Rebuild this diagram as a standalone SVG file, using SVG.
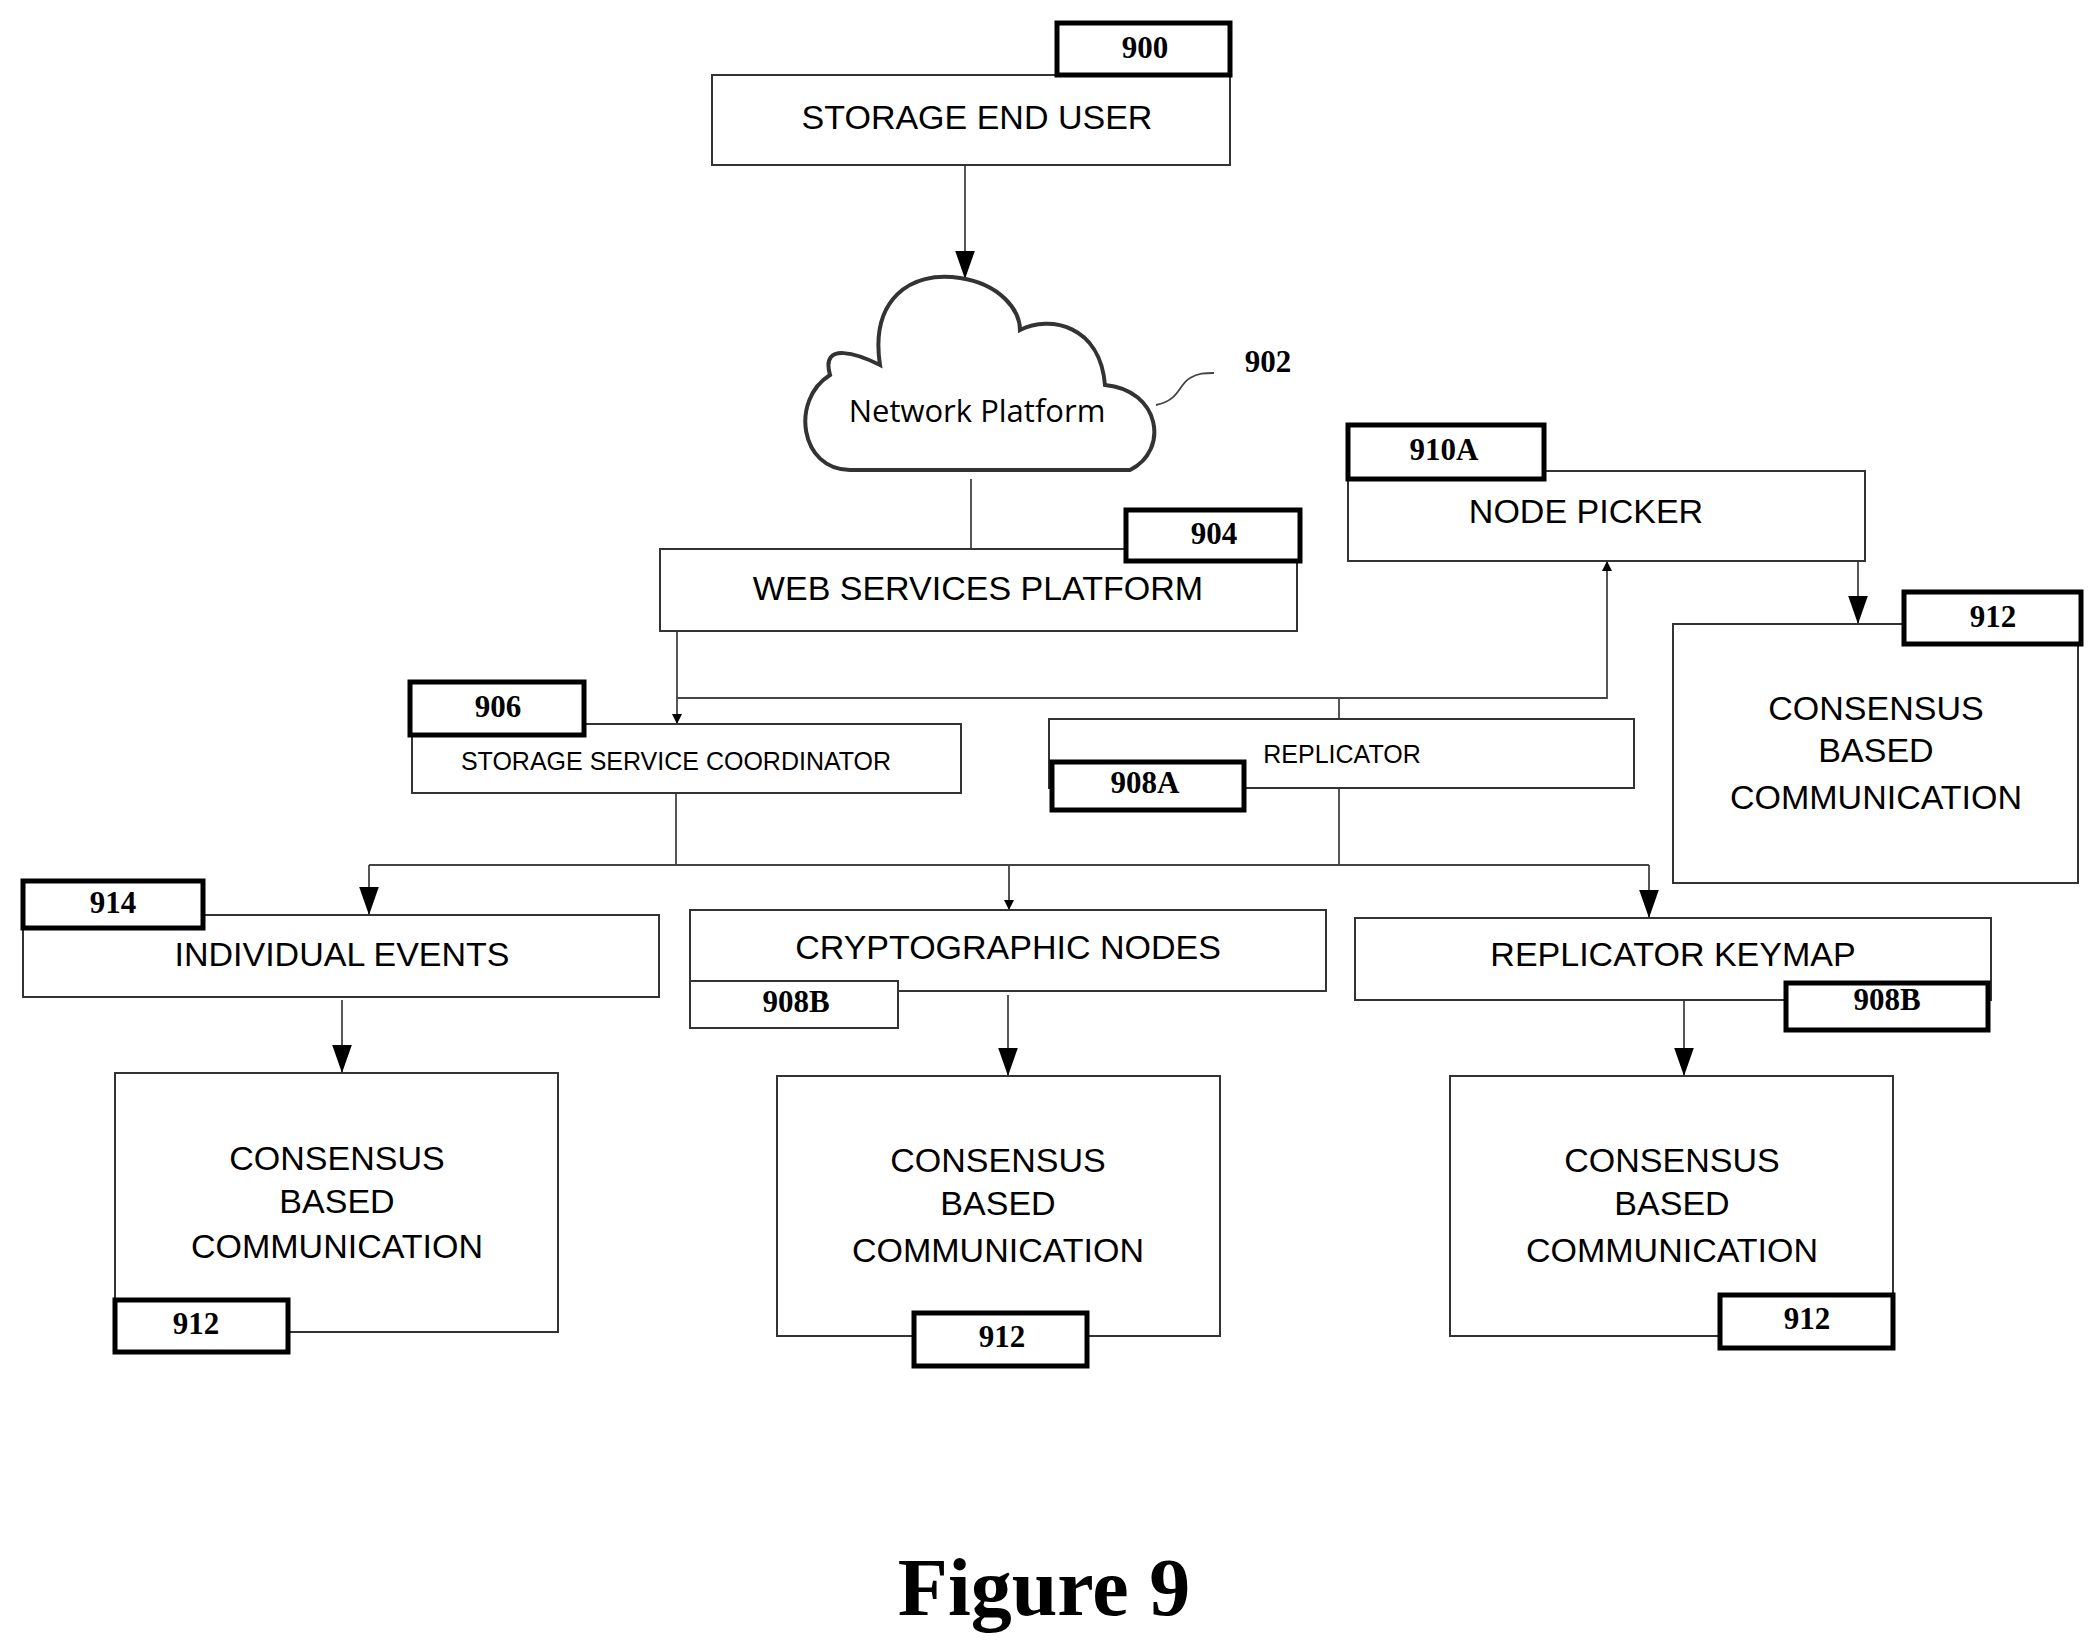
<svg xmlns="http://www.w3.org/2000/svg" width="2097" height="1651" viewBox="0 0 2097 1651">
<defs>
<style>
.box{fill:#fff;stroke:#333;stroke-width:2}
.lab{fill:#fff;stroke:#000;stroke-width:5}
.thin{fill:#fff;stroke:#333;stroke-width:2}
.t{font-family:"Liberation Sans",Arial,sans-serif;font-size:34px;text-anchor:middle;fill:#000}
.ts{font-family:"Liberation Sans",Arial,sans-serif;font-size:25px;text-anchor:middle;fill:#000}
.n{font-family:"Liberation Serif","Times New Roman",serif;font-weight:bold;font-size:31px;text-anchor:middle;fill:#000}
.c{fill:none;stroke:#444;stroke-width:1.8}
</style>
<marker id="a" viewBox="0 0 10 10" refX="10" refY="5" markerWidth="10" markerHeight="10" markerUnits="userSpaceOnUse" orient="auto"><path d="M0,0L10,5L0,10z" fill="#000"/></marker>
<marker id="A" viewBox="0 0 10 10" refX="10" refY="5" markerWidth="28" markerHeight="28" markerUnits="userSpaceOnUse" orient="auto"><path d="M0,1.5L10,5L0,8.5z" fill="#000"/></marker>
</defs>
<rect width="2097" height="1651" fill="#fff"/>
<g id="connectors">
<line class="c" x1="965" y1="165" x2="965" y2="279" marker-end="url(#A)"/>
<line class="c" x1="971" y1="479" x2="971" y2="549"/>
<path class="c" d="M1156,405 C1180,400 1178,385 1190,378 C1198,373 1205,373 1214,373"/>
<line class="c" x1="677" y1="631" x2="677" y2="724" marker-end="url(#a)"/>
<polyline class="c" points="677,698 1607,698 1607,561" marker-end="url(#a)"/>
<line class="c" x1="1339" y1="698" x2="1339" y2="719"/>
<polyline class="c" points="1858,561 1858,624" marker-end="url(#A)"/>
<line class="c" x1="676" y1="793" x2="676" y2="865"/>
<line class="c" x1="1339" y1="788" x2="1339" y2="865"/>
<line class="c" x1="369" y1="865" x2="1649" y2="865"/>
<line class="c" x1="369" y1="865" x2="369" y2="915" marker-end="url(#A)"/>
<line class="c" x1="1009" y1="865" x2="1009" y2="910" marker-end="url(#a)"/>
<line class="c" x1="1649" y1="865" x2="1649" y2="918" marker-end="url(#A)"/>
<line class="c" x1="342" y1="1000" x2="342" y2="1073" marker-end="url(#A)"/>
<line class="c" x1="1008" y1="995" x2="1008" y2="1076" marker-end="url(#A)"/>
<line class="c" x1="1684" y1="1000" x2="1684" y2="1076" marker-end="url(#A)"/>
</g>
<g id="n900">
<rect class="box" x="712" y="75" width="518" height="90"/>
<rect class="lab" x="1057" y="23" width="173" height="52"/>
<text class="n" x="1145" y="58">900</text>
<text class="t" x="977" y="129">STORAGE END USER</text>
</g>
<g id="n902">
<path d="M850,470 C800,470 790,400 830,375 C820,340 860,355 880,365 C870,300 910,270 960,278 C1000,284 1020,310 1020,330 C1050,315 1100,325 1105,385 C1160,390 1170,450 1130,470 Z" fill="#fff" stroke="#333" stroke-width="4"/>
<text x="977" y="422" font-family="Open Sans,Noto Sans,sans-serif" font-size="31" text-anchor="middle">Network Platform</text>
<text class="n" x="1268" y="372">902</text>
</g>
<g id="n904">
<rect class="box" x="660" y="549" width="637" height="82"/>
<rect class="lab" x="1126" y="510" width="174" height="51"/>
<text class="n" x="1214" y="544">904</text>
<text class="t" x="978" y="600">WEB SERVICES PLATFORM</text>
</g>
<g id="n906">
<rect class="box" x="412" y="724" width="549" height="69"/>
<rect class="lab" x="410" y="682" width="174" height="53"/>
<text class="n" x="498" y="717">906</text>
<text class="ts" x="676" y="770">STORAGE SERVICE COORDINATOR</text>
</g>
<g id="n908A">
<rect class="box" x="1049" y="719" width="585" height="69"/>
<rect class="lab" x="1052" y="762" width="192" height="48"/>
<text class="n" x="1145" y="793">908A</text>
<text class="ts" x="1342" y="763">REPLICATOR</text>
</g>
<g id="n910A">
<rect class="box" x="1348" y="471" width="517" height="90"/>
<rect class="lab" x="1348" y="425" width="196" height="54"/>
<text class="n" x="1444" y="460">910A</text>
<text class="t" x="1586" y="523">NODE PICKER</text>
</g>
<g id="n912r">
<rect class="box" x="1673" y="624" width="405" height="259"/>
<rect class="lab" x="1904" y="592" width="177" height="52"/>
<text class="n" x="1993" y="627">912</text>
<text class="t" x="1876" y="720">CONSENSUS</text>
<text class="t" x="1876" y="762">BASED</text>
<text class="t" x="1876" y="809">COMMUNICATION</text>
</g>
<g id="n914">
<rect class="box" x="23" y="915" width="636" height="82"/>
<rect class="lab" x="23" y="881" width="180" height="47"/>
<text class="n" x="113" y="913">914</text>
<text class="t" x="342" y="966">INDIVIDUAL EVENTS</text>
</g>
<g id="n908B1">
<rect class="box" x="690" y="910" width="636" height="81"/>
<rect class="thin" x="690" y="981" width="208" height="47"/>
<text class="n" x="796" y="1012">908B</text>
<text class="t" x="1008" y="959">CRYPTOGRAPHIC NODES</text>
</g>
<g id="n908B2">
<rect class="box" x="1355" y="918" width="636" height="82"/>
<rect class="lab" x="1786" y="983" width="202" height="47"/>
<text class="n" x="1887" y="1010">908B</text>
<text class="t" x="1673" y="966">REPLICATOR KEYMAP</text>
</g>
<g id="n912a">
<rect class="box" x="115" y="1073" width="443" height="259"/>
<rect class="lab" x="115" y="1300" width="173" height="52"/>
<text class="n" x="196" y="1334">912</text>
<text class="t" x="337" y="1170">CONSENSUS</text>
<text class="t" x="337" y="1213">BASED</text>
<text class="t" x="337" y="1258">COMMUNICATION</text>
</g>
<g id="n912b">
<rect class="box" x="777" y="1076" width="443" height="260"/>
<rect class="lab" x="914" y="1313" width="173" height="53"/>
<text class="n" x="1002" y="1347">912</text>
<text class="t" x="998" y="1172">CONSENSUS</text>
<text class="t" x="998" y="1215">BASED</text>
<text class="t" x="998" y="1262">COMMUNICATION</text>
</g>
<g id="n912c">
<rect class="box" x="1450" y="1076" width="443" height="260"/>
<rect class="lab" x="1720" y="1295" width="173" height="53"/>
<text class="n" x="1807" y="1329">912</text>
<text class="t" x="1672" y="1172">CONSENSUS</text>
<text class="t" x="1672" y="1215">BASED</text>
<text class="t" x="1672" y="1262">COMMUNICATION</text>
</g>
<text x="1044" y="1615" font-family="Liberation Serif,Times New Roman,serif" font-weight="bold" font-size="82" text-anchor="middle">Figure 9</text>
</svg>
